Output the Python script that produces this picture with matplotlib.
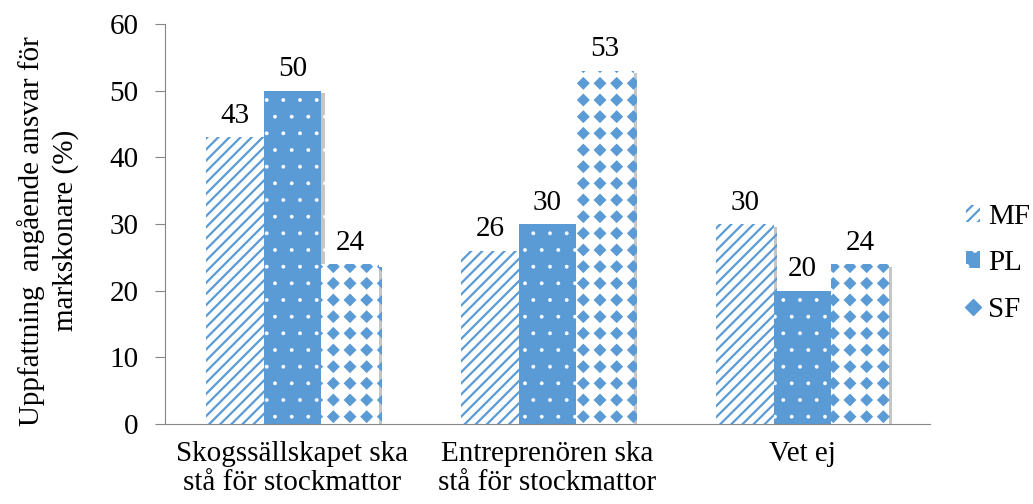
import numpy as np
import matplotlib
matplotlib.use('Agg')
import matplotlib.pyplot as plt
import matplotlib.hatch as mhatch
import matplotlib.patheffects as pe
from matplotlib.path import Path
from matplotlib.patches import Patch
from matplotlib.lines import Line2D

categories = ['Skogssällskapet ska\nstå för stockmattor',
              'Entreprenören ska\nstå för stockmattor',
              'Vet ej']
series = ['MF', 'PL', 'SF']
mf = [43, 26, 30]
pl = [50, 30, 20]
sf = [24, 53, 24]


# diamond texture on a square grid for SF (takes the place of the star hatch '*')
class Diamonds(mhatch.Shapes):
    size = 0.33
    filled = True

    def __init__(self, hatch, density):
        self.num_rows = hatch.count('*') * density
        path = Path.unit_regular_polygon(4)
        self.shape_vertices = path.vertices
        self.shape_codes = path.codes
        self.num_shapes = (self.num_rows + 1) ** 2 if self.num_rows else 0
        self.num_vertices = self.num_shapes * len(self.shape_vertices)

    def set_vertices_and_codes(self, vertices, codes):
        offset = 1.0 / self.num_rows
        shape = self.shape_vertices * offset * self.size
        pts = np.linspace(0, 1, self.num_rows + 1)
        vparts, cparts = [], []
        for r in pts:
            for c in pts:
                vparts.append(shape + [c, r])
                cparts.append(self.shape_codes)
        np.concatenate(vparts, out=vertices)
        np.concatenate(cparts, out=codes)


mhatch._hatch_types = [Diamonds if t is mhatch.Stars else t for t in mhatch._hatch_types]

plt.rcParams['font.family'] = ['Liberation Serif', 'DejaVu Serif']
plt.rcParams['font.size'] = 21
plt.rcParams['hatch.linewidth'] = 1.6

blue = '#5b9bd5'
styles = [dict(facecolor='white', edgecolor=blue, hatch='///'),
          dict(facecolor=blue, edgecolor='white', hatch='.'),
          dict(facecolor='white', edgecolor=blue, hatch='*')]
hatch_lw = [1.6, 0.3, 1.0]

fig = plt.figure(figsize=(10.33, 5.04), dpi=100)
ax = fig.add_axes([0.1597, 0.1587, 0.7406, 0.7937])

x = np.arange(len(categories))
w = 0.225
shadow = [pe.SimplePatchShadow(offset=(2.5, -2), shadow_rgbFace='#a0a0a0', alpha=0.6), pe.Normal()]
for i, vals in enumerate([mf, pl, sf]):
    bars = ax.bar(x + (i - 1) * w, vals, w, linewidth=0, label=series[i], **styles[i])
    for b in bars:
        b.set_path_effects(shadow)
        if hasattr(b, 'set_hatch_linewidth'):
            b.set_hatch_linewidth(hatch_lw[i])
    for xi, v in zip(x + (i - 1) * w, vals):
        ax.annotate(str(v), (xi, v), xytext=(0, 6), textcoords='offset points',
                    ha='center', va='bottom')

ax.set_xlim(-0.5, 2.5)
ax.set_ylim(0, 60)
ax.set_yticks(range(0, 61, 10))
ax.set_xticks(x)
ax.set_xticklabels(categories, linespacing=1.15)
ax.tick_params(axis='x', length=0, pad=12)
ax.tick_params(axis='y', length=7, color='#868686', pad=12)
for s in ['top', 'right']:
    ax.spines[s].set_visible(False)
for s in ['left', 'bottom']:
    ax.spines[s].set_color('#868686')
ax.set_ylabel('Uppfattning  angående ansvar för\nmarkskonare (%)', linespacing=1.35, labelpad=22)
ax.yaxis.label.set_y(0.483)

handles = [Patch(linewidth=0, **styles[0]), Patch(linewidth=0, **styles[1]),
           Line2D([], [], linestyle='none', marker='D', markersize=8, color=blue)]
ax.legend(handles, series, loc='center left', bbox_to_anchor=(0.935, 0.478),
          bbox_transform=fig.transFigure, frameon=False, borderpad=0,
          handlelength=0.5, handleheight=0.5, handletextpad=0.25, labelspacing=0.7,
          borderaxespad=0)

plt.savefig('out.png', dpi=100)
